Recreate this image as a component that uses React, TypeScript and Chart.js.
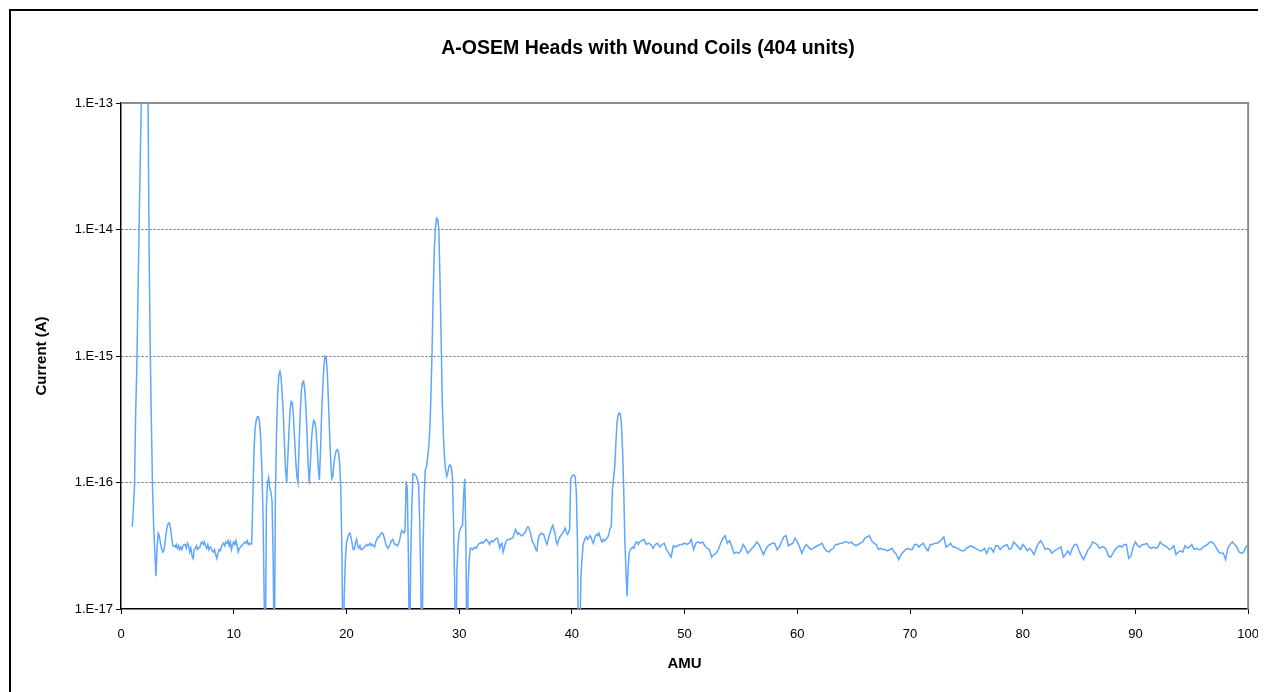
import { useEffect, useRef } from 'react';
import { Chart, registerables } from 'chart.js';

Chart.register(...registerables);

const chartTitle = 'A-OSEM Heads with Wound Coils (404 units)';
const xAxisTitle = 'AMU';
const yAxisTitle = 'Current (A)';
const xTickValues = [0, 10, 20, 30, 40, 50, 60, 70, 80, 90, 100];
const yTickValues = [1e-17, 1e-16, 1e-15, 1e-14, 1e-13];
const yTickLabels = ['1.E-17', '1.E-16', '1.E-15', '1.E-14', '1.E-13'];

// log10 of the ion current (A)
const fineStepAmu = 0.1;
const log10Current_01_10 = [
  -16.35, -16.2, -16.02, -15.45, -15.1, -14.55, -14.0, -13.5, -13.0, -12.75,
  -12.65, -12.65, -12.75, -12.9, -13.0, -14.2, -15.0, -15.55, -16.05, -16.35,
  -16.55, -16.74, -16.52, -16.4, -16.42, -16.48, -16.52, -16.55, -16.54, -16.48,
  -16.4, -16.35, -16.32, -16.32, -16.36, -16.44, -16.5, -16.5, -16.51, -16.49,
  -16.52, -16.5, -16.53, -16.51, -16.53, -16.5, -16.49, -16.49, -16.52, -16.48,
  -16.5, -16.55, -16.52, -16.58, -16.6, -16.53, -16.52, -16.5, -16.53, -16.52,
  -16.51, -16.48, -16.47, -16.49, -16.47, -16.5, -16.52, -16.49, -16.53, -16.51,
  -16.52, -16.54, -16.55, -16.53, -16.57, -16.6, -16.56, -16.53, -16.54, -16.51,
  -16.49, -16.48, -16.5, -16.47, -16.48, -16.46, -16.5, -16.47, -16.53, -16.49,
];
const log10Current_10_20 = [
  -16.47, -16.49, -16.46, -16.5, -16.55, -16.52, -16.51, -16.5, -16.49, -16.48,
  -16.47, -16.48, -16.46, -16.49, -16.48, -16.49, -16.48, -16.1, -15.75, -15.57,
  -15.51, -15.48, -15.48, -15.53, -15.66, -15.9, -16.25, -16.9, -17.5, -16.2,
  -16.0, -15.96, -16.05, -16.07, -16.15, -16.6, -17.5, -16.1, -15.6, -15.3,
  -15.15, -15.12, -15.17, -15.3, -15.46, -15.7, -15.9, -16.0, -15.8, -15.6,
  -15.43, -15.36, -15.37, -15.48, -15.65, -15.82, -15.95, -16.0, -15.7, -15.45,
  -15.28, -15.21, -15.2, -15.26, -15.4, -15.6, -15.85, -16.01, -15.85, -15.66,
  -15.56, -15.51, -15.52, -15.58, -15.72, -15.88, -15.98, -15.75, -15.45, -15.25,
  -15.08, -15.0, -15.01, -15.12, -15.35, -15.6, -15.82, -15.97, -15.95, -15.84,
  -15.78, -15.75, -15.74, -15.76, -15.85, -16.05, -16.55, -17.5, -16.9, -16.62,
];
const log10Current_20_30 = [
  -16.48, -16.44, -16.41, -16.4, -16.43, -16.48, -16.53, -16.53, -16.48, -16.45,
  -16.5, -16.52, -16.5, -16.53, -16.53, -16.52, -16.51, -16.5, -16.49, -16.5,
  -16.49, -16.48, -16.5, -16.49, -16.5, -16.51, -16.47, -16.45, -16.43, -16.43,
  -16.41, -16.4, -16.4, -16.42, -16.45, -16.49, -16.51, -16.52, -16.5, -16.48,
  -16.46, -16.45, -16.47, -16.49, -16.49, -16.5, -16.49, -16.46, -16.42, -16.38,
  -16.39, -16.4, -16.38, -15.99, -16.05, -16.6, -17.5, -16.6, -16.2, -15.93,
  -15.93, -15.94, -15.95, -15.98, -16.02, -16.3, -16.8, -17.5, -16.5, -16.1,
  -15.9, -15.88, -15.8, -15.72, -15.58, -15.3, -14.95, -14.5, -14.15, -13.98,
  -13.91, -13.92, -14.0, -14.4, -14.85, -15.35, -15.62, -15.8, -15.9, -15.95,
  -15.92, -15.87, -15.86, -15.88, -15.95, -16.3, -16.8, -17.5, -16.7, -16.5,
];
const log10Current_30_40 = [
  -16.39, -16.37, -16.35, -16.34, -16.1, -15.97, -16.45, -17.5, -16.8, -16.6,
  -16.52, -16.52, -16.53, -16.52, -16.51, -16.52, -16.51, -16.49, -16.48, -16.48,
  -16.47, -16.48, -16.47, -16.46, -16.45, -16.46, -16.47, -16.49, -16.47, -16.46,
  -16.47, -16.46, -16.45, -16.44, -16.44, -16.48, -16.52, -16.49, -16.48, -16.55,
  -16.52, -16.48, -16.46, -16.45, -16.45, -16.45, -16.44, -16.44, -16.43, -16.4,
  -16.37, -16.39, -16.41, -16.4, -16.41, -16.42, -16.42, -16.41, -16.4, -16.39,
  -16.36, -16.35, -16.36, -16.39, -16.43, -16.47, -16.48, -16.5, -16.53, -16.54,
  -16.46, -16.42, -16.41, -16.4, -16.41, -16.41, -16.44, -16.47, -16.49, -16.45,
  -16.42, -16.39, -16.36, -16.34, -16.37, -16.4, -16.46, -16.49, -16.46, -16.44,
  -16.42, -16.41, -16.4, -16.38, -16.36, -16.39, -16.41, -16.4, -16.37, -15.97,
];
const log10Current_40_46 = [
  -15.95, -15.94, -15.94, -15.96, -16.08, -16.5, -17.5, -17.3, -16.75, -16.6,
  -16.49, -16.46, -16.44, -16.43, -16.45, -16.44, -16.42, -16.43, -16.46, -16.48,
  -16.45, -16.42, -16.41, -16.42, -16.4, -16.43, -16.46, -16.47, -16.45, -16.46,
  -16.45, -16.44, -16.43, -16.4, -16.36, -16.35, -16.05, -15.97, -15.88, -15.7,
  -15.53, -15.47, -15.45, -15.46, -15.54, -15.75, -16.05, -16.45, -16.7, -16.9,
  -16.66, -16.55, -16.53, -16.52, -16.51, -16.52, -16.49, -16.47, -16.47, -16.49,
];
const coarseStepAmu = 0.2;
const log10Current_46_73 = [
  -16.47, -16.46, -16.45, -16.49, -16.48, -16.49, -16.52, -16.49, -16.48, -16.51,
  -16.49, -16.48, -16.53, -16.56, -16.59, -16.5, -16.51, -16.5, -16.49, -16.49,
  -16.48, -16.49, -16.48, -16.45, -16.53, -16.48, -16.47, -16.48, -16.47, -16.5,
  -16.52, -16.53, -16.59, -16.57, -16.56, -16.53, -16.48, -16.44, -16.42, -16.48,
  -16.46, -16.51, -16.56, -16.55, -16.56, -16.54, -16.49, -16.52, -16.56, -16.54,
  -16.52, -16.5, -16.47, -16.49, -16.53, -16.57, -16.53, -16.5, -16.49, -16.48,
  -16.48, -16.53, -16.51, -16.47, -16.43, -16.42, -16.5, -16.49, -16.48, -16.44,
  -16.47, -16.51, -16.56, -16.52, -16.49, -16.51, -16.53, -16.52, -16.51, -16.5,
  -16.49, -16.48, -16.52, -16.54, -16.55, -16.53, -16.52, -16.49, -16.49, -16.48,
  -16.48, -16.47, -16.47, -16.48, -16.47, -16.49, -16.5, -16.49, -16.48, -16.47,
  -16.44, -16.43, -16.42, -16.46, -16.48, -16.49, -16.53, -16.52, -16.53, -16.53,
  -16.54, -16.53, -16.52, -16.55, -16.57, -16.61, -16.57, -16.55, -16.53, -16.52,
  -16.53, -16.53, -16.49, -16.49, -16.51, -16.49, -16.48, -16.52, -16.54, -16.49,
  -16.49, -16.48, -16.48, -16.47, -16.45,
];
const log10Current_73_100 = [
  -16.43, -16.51, -16.5, -16.48, -16.51, -16.51, -16.52, -16.53, -16.54, -16.54,
  -16.52, -16.51, -16.5, -16.51, -16.52, -16.53, -16.54, -16.54, -16.52, -16.56,
  -16.52, -16.52, -16.55, -16.5, -16.5, -16.53, -16.51, -16.5, -16.49, -16.53,
  -16.52, -16.47, -16.49, -16.51, -16.53, -16.49, -16.51, -16.54, -16.52, -16.54,
  -16.57, -16.52, -16.48, -16.46, -16.49, -16.53, -16.52, -16.53, -16.56, -16.54,
  -16.53, -16.52, -16.51, -16.59, -16.57, -16.54, -16.57, -16.52, -16.49, -16.49,
  -16.54, -16.58, -16.61, -16.57, -16.53, -16.51, -16.47, -16.48, -16.49, -16.52,
  -16.51, -16.51, -16.53, -16.58, -16.59, -16.56, -16.53, -16.51, -16.5, -16.51,
  -16.49, -16.49, -16.6, -16.58, -16.51, -16.47, -16.5, -16.51, -16.49, -16.49,
  -16.48, -16.51, -16.52, -16.51, -16.52, -16.51, -16.47, -16.49, -16.5, -16.51,
  -16.53, -16.52, -16.5, -16.57, -16.55, -16.54, -16.55, -16.5, -16.52, -16.51,
  -16.49, -16.53, -16.52, -16.53, -16.53, -16.51, -16.5, -16.49, -16.47, -16.47,
  -16.49, -16.52, -16.55, -16.56, -16.56, -16.61, -16.52, -16.49, -16.47, -16.49,
  -16.51, -16.55, -16.56, -16.55, -16.51, -16.49,
];

const scanSegments = [
  { startAmu: 1, stepAmu: fineStepAmu, values: log10Current_01_10 },
  { startAmu: 10, stepAmu: fineStepAmu, values: log10Current_10_20 },
  { startAmu: 20, stepAmu: fineStepAmu, values: log10Current_20_30 },
  { startAmu: 30, stepAmu: fineStepAmu, values: log10Current_30_40 },
  { startAmu: 40, stepAmu: fineStepAmu, values: log10Current_40_46 },
  { startAmu: 46, stepAmu: coarseStepAmu, values: log10Current_46_73 },
  { startAmu: 73, stepAmu: coarseStepAmu, values: log10Current_73_100 },
];

const FONT = "'Liberation Sans', Arial, sans-serif";

const plotFrame = {
  id: 'plotFrame',
  beforeDatasetsDraw(chart: any) {
    const { ctx, chartArea } = chart;
    ctx.save();
    ctx.strokeStyle = '#8c8c8c';
    ctx.lineWidth = 2;
    ctx.beginPath();
    ctx.moveTo(chartArea.left, chartArea.top);
    ctx.lineTo(chartArea.right, chartArea.top);
    ctx.lineTo(chartArea.right, chartArea.bottom);
    ctx.stroke();
    ctx.restore();
  },
};

export default function App() {
  const ref = useRef<HTMLCanvasElement | null>(null);

  useEffect(() => {
    if (!ref.current) return;
    const points: { x: number; y: number }[] = [];
    for (const seg of scanSegments) {
      seg.values.forEach((v, i) => {
        points.push({ x: Math.round((seg.startAmu + i * seg.stepAmu) * 10) / 10, y: Math.pow(10, v) });
      });
    }
    const chart = new Chart(ref.current, {
      type: 'line',
      data: {
        datasets: [
          {
            data: points,
            borderColor: '#5ea6ff',
            borderWidth: 1.5,
            pointRadius: 0,
            tension: 0,
            fill: false,
          },
        ],
      },
      options: {
        animation: false,
        responsive: false,
        maintainAspectRatio: false,
        layout: { padding: { left: 33, right: 20, top: 0, bottom: 13 } },
        plugins: {
          legend: { display: false },
          tooltip: { enabled: false },
          title: {
            display: true,
            text: chartTitle,
            color: '#000',
            font: { family: FONT, size: 19.5, weight: 'bold' },
            padding: { top: 26.3, bottom: 42.3 },
          },
        },
        scales: {
          x: {
            type: 'linear',
            min: 0,
            max: 100,
            afterBuildTicks: (s: any) => {
              s.ticks = xTickValues.map((v) => ({ value: v }));
            },
            afterFit: (s: any) => {
              s.height = 70;
            },
            ticks: {
              color: '#000',
              font: { family: FONT, size: 13 },
              padding: 13,
              maxRotation: 0,
              autoSkip: false,
              callback: (v: any) => String(v),
            },
            grid: { drawOnChartArea: false, drawTicks: true, tickLength: 5, tickColor: '#000' },
            border: { color: '#000', width: 1.5 },
            title: {
              display: true,
              text: xAxisTitle,
              color: '#000',
              font: { family: FONT, size: 15, weight: 'bold' },
              padding: { top: 0, bottom: 6 },
            },
          },
          y: {
            type: 'logarithmic',
            min: 1e-17,
            max: 1e-13,
            afterBuildTicks: (s: any) => {
              s.ticks = yTickValues.map((v) => ({ value: v }));
            },
            afterFit: (s: any) => {
              s.width = 77;
            },
            ticks: {
              color: '#000',
              font: { family: FONT, size: 13 },
              padding: 3,
              autoSkip: false,
              callback: (_v: any, i: number) => yTickLabels[i],
            },
            grid: {
              color: (c: any) => (c.index === 0 || c.index === yTickValues.length - 1 ? 'rgba(0,0,0,0)' : '#666'),
              lineWidth: 1,
              drawTicks: true,
              tickLength: 5,
              tickColor: '#000',
              tickBorderDash: [],
            },
            border: { color: '#000', width: 1.5, dash: [2, 2] },
            title: {
              display: true,
              text: yAxisTitle,
              color: '#000',
              font: { family: FONT, size: 15, weight: 'bold' },
              padding: { top: -11, bottom: 0 },
            },
          },
        },
      },
      plugins: [plotFrame],
    });
    return () => chart.destroy();
  }, []);

  return (
    <div style={{ width: 1258, height: 684, overflow: 'hidden', position: 'relative' }}>
      <div
        style={{
          position: 'absolute',
          left: 1,
          top: 1,
          width: 1400,
          height: 800,
          borderLeft: '2px solid #000',
          borderTop: '2px solid #000',
        }}
      />
      <canvas
        ref={ref}
        width={1261}
        height={681}
        style={{ position: 'absolute', left: 3, top: 3, display: 'block' }}
      />
    </div>
  );
}
